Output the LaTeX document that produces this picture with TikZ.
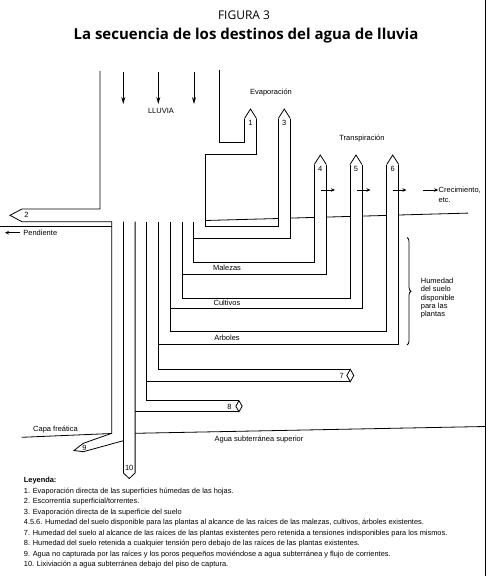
\documentclass[tikz,border=0pt]{standalone}
\usepackage{fontspec}
\setmainfont{Liberation Sans}
\newfontfamily\titulo{Open Sans}
\usetikzlibrary{arrows.meta,decorations.pathreplacing}

\begin{document}
\begin{tikzpicture}[x=1pt, y=-1pt, line width=0.8pt,
    txt/.style={font=\fontsize{7.5}{8.3}\selectfont, inner sep=0pt},
    leg/.style={font=\fontsize{7.4}{8}\selectfont, inner sep=0pt, anchor=base west},
    fl/.style={-{Stealth[length=7pt,width=4pt]}},
    flc/.style={-{Stealth[length=4pt,width=3.5pt]}}]
    \useasboundingbox (0,0) rectangle (489,576);
    \draw (485,0) -- (485,576);
    % Titulo
    \node[font=\titulo\fontsize{12}{14}\selectfont, anchor=base] (fig) at (244,19.5) {FIGURA 3};
    \node[font=\titulo\bfseries\fontsize{15}{17}\selectfont, anchor=base] (tit) at (246,39.5) {La secuencia de los destinos del agua de lluvia};
    % Lluvia
    \foreach \x [count=\i] in {123.3,158.3,194} {
        \coordinate (r\i) at (\x,71.5);
        \coordinate (s\i) at (\x,104);
        \draw[fl] (r\i) -- (s\i);}
    \node[txt] (lluvia) at (161,110.7) {LLUVIA};
    \node[txt] (evap) at (271,93) {Evaporación};
    \node[txt] (transp) at (362,139) {Transpiración};
    % Canal principal, 2 (escorrentia) y 9
    \draw (100,71) -- (100,209) -- (22,209) -- (10,215.3) -- (22,221.7) -- (111.7,221.7)
        -- (111.7,433.3) -- (83.3,443.3) -- (74,450.5) -- (83.3,451.7) -- (123.4,440.7);
    \draw (219.3,70) -- (219.3,142.3) -- (244.5,142.3) -- (244.5,118.5);
    \draw (256.5,118.5) -- (256.5,154.3) -- (205.3,154.3) -- (205.3,226.7) -- (278.3,226.7) -- (278.3,118.5);
    % Puntas 1, 3, 4, 5, 6
    \foreach \xa/\ya/\n in {244.5/118.5/1, 278.3/118.5/3, 314.3/164.5/4, 350/164.5/5, 386.7/164.5/6} {
        \draw (\xa,\ya) -- (\xa+6,\ya-9.5) -- (\xa+12,\ya);
        \node[txt] (p\n) at (\xa+6,\ya+4.5) {\n};}
    % Canales de infiltracion
    \draw (193.6,238.3) -- (290.3,238.3) -- (290.3,118.5);
    \draw (193.6,221.7) -- (193.6,262.3) -- (314.3,262.3) -- (314.3,164.5);
    \draw (181.9,274) -- (326.3,274) -- (326.3,164.5);
    \draw (181.9,221.7) -- (181.9,298.3) -- (350,298.3) -- (350,164.5);
    \draw (170.2,308.3) -- (362,308.3) -- (362,164.5);
    \draw (170.2,221.7) -- (170.2,331.7) -- (386.7,331.7) -- (386.7,164.5);
    \draw (158.5,344) -- (398.7,344) -- (398.7,164.5);
    \draw (158.5,221.7) -- (158.5,369.3) -- (350.3,369.3);
    \draw (146.8,381.7) -- (350.3,381.7);
    \draw (146.8,221.7) -- (146.8,400.7) -- (239,400.7);
    \draw (135.1,411.7) -- (239,411.7);
    \draw (123.4,221.7) -- (123.4,473) -- (129.25,478.5) -- (135.1,473) -- (135.1,221.7);
    % Rombos 7 y 8
    \draw (350.3,369.3) -- (353.8,375.5) -- (350.3,381.7) -- (346.8,375.5) -- cycle;
    \draw (239,400.7) -- (242.2,406.2) -- (239,411.7) -- (235.8,406.2) -- cycle;
    \node[txt] (p7) at (341.7,375.5) {7};
    \node[txt] (p8) at (229.5,406.5) {8};
    \node[txt] (p2) at (26.5,215) {2};
    \node[txt] (p9) at (84.5,447.5) {9};
    \node[txt] (p10) at (129.25,467.5) {10};
    % Superficie del suelo
    \draw (0,226.5) -- (111.7,226.5);
    \draw (205.3,220.5) -- (278.3,218.5);
    \draw (290.3,218.1) -- (314.3,217.4);
    \draw (326.3,217.1) -- (350,216.4);
    \draw (362,216.1) -- (386.7,215.4);
    \draw (398.7,215.0) -- (468,213.1);
    \node[txt, anchor=west] (pend) at (23,232.7) {Pendiente};
    \coordinate (pd0) at (20,232.7);
    \coordinate (pd1) at (5,232.7);
    \draw[flc] (pd0) -- (pd1);
    % Transpiracion
    \node[txt, anchor=west] (crec) at (438.3,190) {Crecimiento,};
    \node[txt, anchor=west] (etc) at (438.3,200) {etc.};
    \foreach \x [count=\i] in {321,356.5,392.5} {
        \coordinate (t\i) at (\x,190);
        \coordinate (u\i) at (\x+14,190);
        \draw[flc] (t\i) -- (u\i);}
    \coordinate (t4) at (423,190);
    \draw[flc] (t4) -- (crec.west);
    % Zonas de raices
    \node[txt] (mal) at (227,268) {Malezas};
    \node[txt] (cul) at (227,303) {Cultivos};
    \node[txt] (arb) at (227,338) {Arboles};
    \draw[decorate, decoration={brace, amplitude=4pt}] (407,237.5) -- (407,345);
    \node[txt, anchor=west, align=left] (hum) at (420.5,298.3) {Humedad\\del suelo\\disponible\\para las\\plantas};
    % Agua subterranea
    \draw (21.7,437.3) -- (111.7,433.5);
    \draw (135.1,433.3) -- (485,426.5);
    \node[txt] (capa) at (55.5,430) {Capa freática};
    \node[txt] (agua) at (259,440) {Agua subterránea superior};
    % Leyenda
    \node[leg, font=\bfseries\fontsize{7.4}{8}\selectfont] (ley) at (23.5,482.5) {Leyenda:};
    \foreach \t [count=\i] in {
        {1. Evaporación directa de las superficies húmedas de las hojas.},
        {2. Escorrentía superficial/torrentes.},
        {3. Evaporación directa de la superficie del suelo},
        {4.5.6. Humedad del suelo disponible para las plantas al alcance de las raíces de las malezas, cultivos, árboles existentes.},
        {7. Humedad del suelo al alcance de las raíces de las plantas existentes pero retenida a tensiones indisponibles para los mismos.},
        {8. Humedad del suelo retenida a cualquier tensión pero debajo de las raíces de las plantas existentes.},
        {9. Agua no capturada por las raíces y los poros pequeños moviéndose a agua subterránea y flujo de corrientes.},
        {10. Lixiviación a agua subterránea debajo del piso de captura.}}
        {\node[leg] (l\i) at (23.5,482.5+10.5*\i) {\t};}
\end{tikzpicture}
\end{document}
